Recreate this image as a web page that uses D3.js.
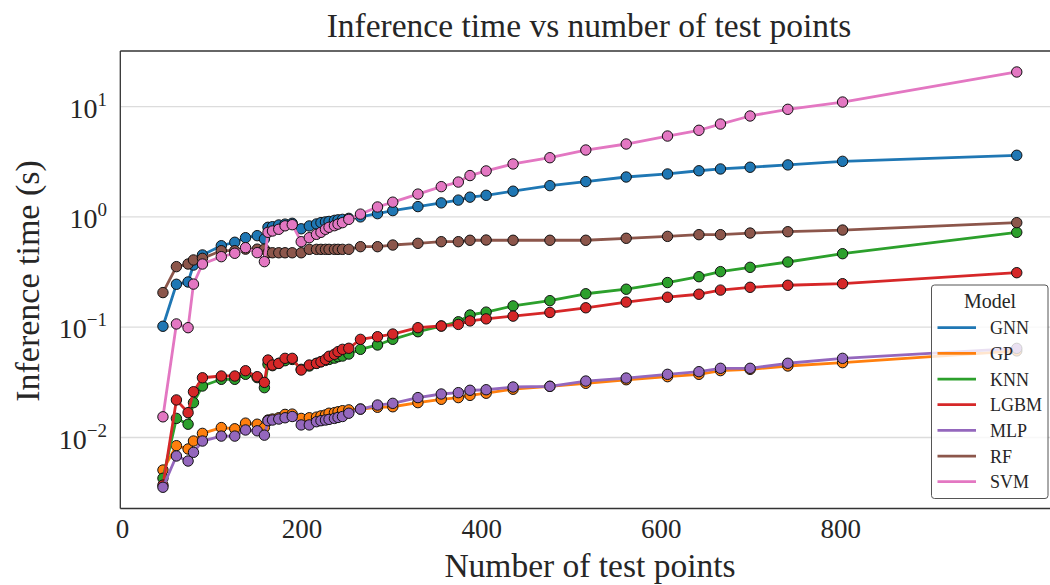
<!DOCTYPE html>
<html>
<head>
<meta charset="utf-8">
<script src="https://cdn.jsdelivr.net/npm/d3@7"></script>
<style>
  html, body { margin: 0; padding: 0; background: #fff; }
  svg { display: block; }
  text { font-family: "Liberation Serif", "Times New Roman", serif; fill: #262626; }
</style>
</head>
<body>
<svg id="chart" width="1050" height="585"></svg>
<script>
// ---- data ----
const testPoints = [45,60,73,79,89,110,125,137,150,158,162,167,174,181,189,199,208,216,221,226,230,236,240,245,252,265,284,301,329,355,374,387,405,435,476,516,561,607,642,666,699,741,802,996];

const models = ["GNN","GP","KNN","LGBM","MLP","RF","SVM"];
const colors = ["#1f77b4","#ff7f0e","#2ca02c","#d62728","#9467bd","#8c564b","#e377c2"];

const gnn = [0.102,0.245,0.257,0.366,0.452,0.548,0.589,0.648,0.676,0.631,0.805,0.815,0.845,0.86,0.875,0.78,0.828,0.863,0.887,0.90,0.91,0.93,0.94,0.95,0.97,1.0,1.07,1.14,1.24,1.34,1.42,1.51,1.57,1.71,1.92,2.09,2.30,2.45,2.62,2.72,2.82,2.96,3.19,3.62];
const gp = [0.00507,0.00843,0.00787,0.00929,0.0109,0.0123,0.0120,0.0135,0.0132,0.0123,0.0144,0.0147,0.0151,0.0162,0.0163,0.0149,0.0151,0.0153,0.0157,0.0160,0.0166,0.0168,0.0171,0.0175,0.0178,0.0181,0.0188,0.019,0.0207,0.0222,0.023,0.0241,0.0252,0.0274,0.0291,0.031,0.0334,0.0356,0.0374,0.0404,0.0415,0.0445,0.0477,0.061];
const knn = [0.00427,0.0149,0.0132,0.0207,0.0293,0.0337,0.0337,0.0374,0.0349,0.0283,0.0461,0.0448,0.047,0.0497,0.051,0.0415,0.0445,0.047,0.0486,0.050,0.051,0.0524,0.054,0.0548,0.0571,0.063,0.069,0.0777,0.091,0.1025,0.112,0.129,0.137,0.156,0.174,0.201,0.221,0.254,0.287,0.319,0.349,0.390,0.464,0.725];
const lgbm = [0.0037,0.0219,0.0168,0.026,0.0348,0.0361,0.0361,0.0403,0.0356,0.0316,0.0504,0.0454,0.047,0.0522,0.0522,0.0409,0.0454,0.047,0.0486,0.051,0.0545,0.0568,0.06,0.063,0.0644,0.0776,0.082,0.0867,0.099,0.1025,0.106,0.114,0.119,0.126,0.136,0.150,0.169,0.187,0.199,0.217,0.230,0.240,0.248,0.312];
const mlp = [0.00354,0.0068,0.00612,0.00734,0.00929,0.0103,0.0103,0.0117,0.0115,0.0105,0.0142,0.0144,0.0147,0.0151,0.0155,0.0130,0.0130,0.0139,0.0142,0.0144,0.0146,0.0149,0.0152,0.0155,0.0166,0.0181,0.0197,0.0204,0.0230,0.0248,0.0255,0.0268,0.0271,0.0287,0.0291,0.0325,0.0346,0.0374,0.0395,0.0424,0.0424,0.0471,0.0522,0.0643];
const rf = [0.206,0.354,0.374,0.407,0.421,0.494,0.494,0.51,0.51,0.51,0.473,0.473,0.473,0.473,0.473,0.473,0.508,0.508,0.508,0.508,0.508,0.508,0.508,0.508,0.508,0.537,0.537,0.556,0.576,0.596,0.596,0.614,0.617,0.614,0.614,0.614,0.64,0.666,0.690,0.690,0.714,0.734,0.760,0.887];
const svm = [0.0154,0.107,0.099,0.246,0.374,0.436,0.468,0.526,0.474,0.393,0.725,0.745,0.772,0.83,0.85,0.596,0.648,0.695,0.725,0.772,0.805,0.832,0.86,0.887,0.95,1.06,1.23,1.36,1.61,1.88,2.07,2.37,2.61,3.02,3.44,4.04,4.58,5.41,6.10,6.95,8.22,9.45,11.0,20.6];

const xTicks = [0,200,400,600,800];
const yTicks = [0.01,0.1,1,10];
const yTickExp = ["\u22122","\u22121","0","1"];

const seriesValues = [gnn,gp,knn,lgbm,mlp,rf,svm];

// ---- layout ----
const svg = d3.select("#chart");
const plot = {left:120.3, right:1059.4, top:51, bottom:508.5};

const x = d3.scaleLinear().domain([-2.5,1043.5]).range([plot.left, plot.right]);
const y = d3.scaleLog().domain([Math.pow(10,-2.6437), Math.pow(10,1.5041)]).range([plot.bottom, plot.top]);

// gridlines
svg.append("g").selectAll("line").data(yTicks).join("line")
  .attr("x1", plot.left).attr("x2", plot.right)
  .attr("y1", d => y(d)).attr("y2", d => y(d))
  .attr("stroke", "#dcdcdc").attr("stroke-width", 1.3);

// series
svg.append("defs").append("clipPath").attr("id","clip")
  .append("rect").attr("x", plot.left).attr("y", plot.top)
  .attr("width", plot.right-plot.left).attr("height", plot.bottom-plot.top);

const gData = svg.append("g").attr("clip-path","url(#clip)");
const line = d3.line().x(d => x(d[0])).y(d => y(d[1]));

models.forEach((m, i) => {
  const pts = testPoints.map((t, j) => [t, seriesValues[i][j]]);
  const g = gData.append("g");
  g.append("path").datum(pts).attr("d", line)
    .attr("fill","none").attr("stroke", colors[i]).attr("stroke-width", 2.8)
    .attr("stroke-linejoin","round");
  g.selectAll("circle").data(pts).join("circle")
    .attr("cx", d => x(d[0])).attr("cy", d => y(d[1])).attr("r", 5.2)
    .attr("fill", colors[i]).attr("stroke", "#111").attr("stroke-width", 1);
});

// spines
const spine = svg.append("g").attr("stroke","#333").attr("stroke-width",1.3).attr("fill","none");
spine.append("line").attr("x1",plot.left).attr("x2",plot.left).attr("y1",plot.top).attr("y2",plot.bottom);
spine.append("line").attr("x1",plot.left).attr("x2",plot.right).attr("y1",plot.top).attr("y2",plot.top);
spine.append("line").attr("x1",plot.left).attr("x2",plot.right).attr("y1",plot.bottom).attr("y2",plot.bottom);
spine.append("line").attr("x1",plot.right).attr("x2",plot.right).attr("y1",plot.top).attr("y2",plot.bottom);

// x tick labels
svg.append("g").selectAll("text").data(xTicks).join("text")
  .attr("x", d => x(d)).attr("y", 538)
  .attr("text-anchor","middle").attr("font-size", 27)
  .text(d => d);

// y tick labels
const yl = svg.append("g").selectAll("text").data(yTicks).join("text")
  .attr("x", 107).attr("y", d => y(d) + 11)
  .attr("text-anchor","end").attr("font-size", 28);
yl.append("tspan").text("10");
yl.append("tspan").attr("dy", -12).attr("font-size", 19).text((d,i) => yTickExp[i]);

// axis titles
svg.append("text").attr("x", 590).attr("y", 577).attr("text-anchor","middle")
  .attr("font-size", 33.5).text("Number of test points");
svg.append("text").attr("transform","translate(39,281) rotate(-90)").attr("text-anchor","middle")
  .attr("font-size", 34).text("Inference time (s)");
svg.append("text").attr("x", 589).attr("y", 37).attr("text-anchor","middle")
  .attr("font-size", 33.5).text("Inference time vs number of test points");

// legend
const lg = svg.append("g");
lg.append("rect").attr("x", 931.5).attr("y", 285).attr("width", 116.5).attr("height", 213.5)
  .attr("rx", 3).attr("fill", "#fff").attr("fill-opacity", 0.8)
  .attr("stroke", "#555").attr("stroke-width", 1);
lg.append("text").attr("x", 990).attr("y", 308).attr("text-anchor","middle")
  .attr("font-size", 20).text("Model");
const rows = lg.selectAll("g.row").data(models).join("g").attr("class","row")
  .attr("transform", (d,i) => `translate(0, ${327.7 + i*25.67})`);
rows.append("line").attr("x1", 937.5).attr("x2", 976).attr("y1", 0).attr("y2", 0)
  .attr("stroke", (d,i) => colors[i]).attr("stroke-width", 2.8);
rows.append("text").attr("x", 990).attr("y", 6.5).attr("font-size", 18).text(d => d);
</script>
</body>
</html>
